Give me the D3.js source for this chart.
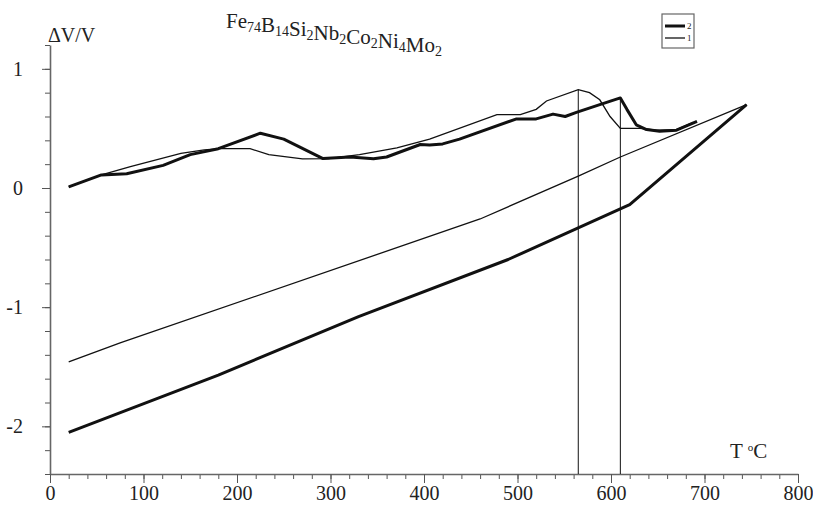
<!DOCTYPE html>
<html>
<head>
  <meta charset="UTF-8">
  <title></title>
  <script src="https://cdn.jsdelivr.net/npm/d3@7"></script>
  <style>
    body { margin: 0; background: #fff; }
    text { font-family: "Liberation Serif", "Times New Roman", serif; fill: #222; }
  </style>
</head>
<body>
<div id="chart"></div>
<script>

  // curve 1 (thin) and curve 2 (thick): [T, dV/V]
  var heat1 = [[20,0.01],[55,0.11],[86,0.18],[140,0.29],[165,0.32],[182,0.33],[214,0.33],
               [234,0.28],[270,0.245],[298,0.247],[331,0.28],[371,0.337],[406,0.41],
               [478,0.616],[503,0.616],[520,0.66],[531,0.73],[565,0.825],[577,0.80],
               [588,0.74],[599,0.60],[610,0.50],[631,0.50],[649,0.485],[670,0.49],[688,0.55]];
  var cool1 = [[745,0.70],[610,0.26],[565,0.10],[460,-0.26],[75,-1.30],[20,-1.46]];

  var heat2 = [[20,0.01],[55,0.11],[82,0.12],[121,0.19],[150,0.28],[180,0.33],[225,0.46],
               [250,0.41],[292,0.247],[321,0.26],[346,0.245],[360,0.26],[396,0.365],
               [406,0.36],[420,0.37],[438,0.41],[499,0.58],[520,0.58],[538,0.62],[551,0.60],
               [563,0.635],[588,0.70],[610,0.756],[617,0.66],[627,0.53],[638,0.49],
               [652,0.476],[670,0.485],[692,0.56]];
  var cool2 = [[745,0.70],[620,-0.14],[490,-0.60],[330,-1.08],[180,-1.57],[20,-2.05]];

  var markT = [565, 610];
  var markV = [0.825, 0.756];

  var xTicks = [0,100,200,300,400,500,600,700,800];
  var yTicks = [-2,-1,0,1];

  var w = 813, h = 508;

  var svg = d3.select('#chart').append('svg')
      .attr('width', w)
      .attr('height', h);

  var x = d3.scaleLinear().domain([0, 800]).range([50, 798]);
  var y = d3.scaleLinear().domain([-2.4, 1.2]).range([474, 45]);

  // minor ticks
  svg.append('g')
      .attr('transform', 'translate(0,474)')
      .call(d3.axisBottom(x).tickValues(d3.range(0, 801, 20)).tickSize(5).tickFormat(''))
      .call(function(g){ g.select('.domain').remove(); });
  svg.append('g')
      .attr('transform', 'translate(50,0)')
      .call(d3.axisLeft(y).tickValues(d3.range(-12, 7).map(function(d){ return d/5; })).tickSize(5).tickFormat(''))
      .call(function(g){ g.select('.domain').remove(); });

  svg.append('g')
      .attr('transform', 'translate(0,474)')
      .call(d3.axisBottom(x).tickValues(xTicks).tickSize(9).tickSizeOuter(0).tickPadding(3)
        .tickFormat(function(d){ return String(d); }));
  svg.append('g')
      .attr('transform', 'translate(50,0)')
      .call(d3.axisLeft(y).tickValues(yTicks).tickSize(8).tickSizeOuter(0).tickPadding(19)
        .tickFormat(function(d){ return String(d); }));

  svg.selectAll('.tick line').attr('stroke', '#555');
  svg.selectAll('.domain').attr('stroke', '#666').attr('stroke-width', 1.6);
  svg.selectAll('.tick text')
      .style('font-family', '"Liberation Serif", "Times New Roman", serif')
      .style('font-size', '20px')
      .attr('fill', '#222');

  var line = d3.line()
      .x(function(d){ return x(d[0]); })
      .y(function(d){ return y(d[1]); });

  svg.append('path').datum(heat1).attr('d', line)
      .attr('fill', 'none').attr('stroke', '#111').attr('stroke-width', 1.3);
  svg.append('path').datum(cool1).attr('d', line)
      .attr('fill', 'none').attr('stroke', '#111').attr('stroke-width', 1.3);
  svg.append('path').datum(heat2).attr('d', line)
      .attr('fill', 'none').attr('stroke', '#111').attr('stroke-width', 3).attr('stroke-linejoin', 'round');
  svg.append('path').datum(cool2).attr('d', line)
      .attr('fill', 'none').attr('stroke', '#111').attr('stroke-width', 3).attr('stroke-linejoin', 'round');

  svg.selectAll('line.mark')
      .data(markT)
      .enter().append('line')
      .attr('x1', function(d){ return x(d); })
      .attr('x2', function(d){ return x(d); })
      .attr('y1', function(d, i){ return y(markV[i]); })
      .attr('y2', y(-2.4))
      .attr('stroke', '#111')
      .attr('stroke-width', 1);

  // labels
  svg.append('text').attr('x', 48).attr('y', 42)
      .style('font-size', '20px').text('ΔV/V');

  var title = svg.append('text').attr('x', 226).attr('y', 28).style('font-size', '21px');
  [['Fe','74'],['B','14'],['Si','2'],['Nb','2'],['Co','2'],['Ni','4'],['Mo','2']].forEach(function(p){
    title.append('tspan').text(p[0]);
    title.append('tspan').attr('dy', 4).style('font-size', '14px').text(p[1]);
    title.append('tspan').attr('dy', -4).text('');
  });

  var tl = svg.append('text').attr('x', 730).attr('y', 458).style('font-size', '21px');
  tl.append('tspan').text('T ');
  tl.append('tspan').attr('dy', -7).style('font-size', '11px').text('o');
  tl.append('tspan').attr('dy', 7).text('C');

  // legend
  var lg = svg.append('g').attr('transform', 'translate(662,14)');
  lg.append('rect').attr('width', 32).attr('height', 34)
      .attr('fill', '#fff').attr('stroke', '#666').attr('stroke-width', 1.2);
  lg.append('line').attr('x1', 3).attr('x2', 23).attr('y1', 12).attr('y2', 12)
      .attr('stroke', '#111').attr('stroke-width', 3);
  lg.append('line').attr('x1', 3).attr('x2', 23).attr('y1', 24).attr('y2', 24)
      .attr('stroke', '#111').attr('stroke-width', 1.3);
  lg.append('text').attr('x', 25).attr('y', 15).style('font-size', '9px').text('2');
  lg.append('text').attr('x', 25).attr('y', 27).style('font-size', '9px').text('1');

</script>
</body>
</html>
